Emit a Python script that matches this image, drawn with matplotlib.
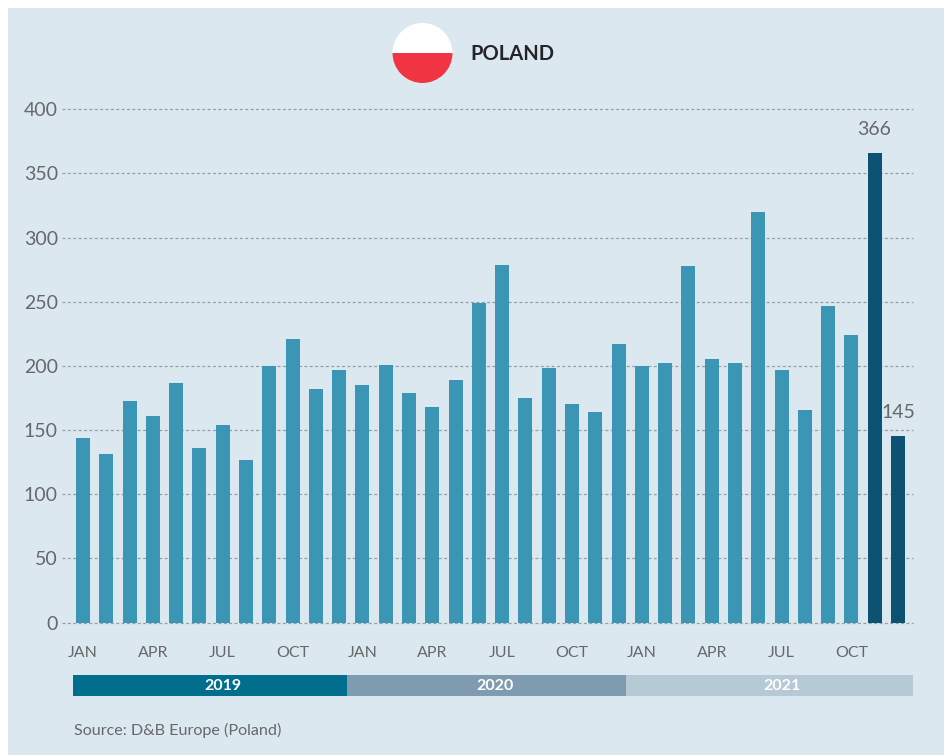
import numpy as np
import matplotlib
matplotlib.use("Agg")
import matplotlib.pyplot as plt
from matplotlib.patches import Circle, Rectangle

plt.rcParams["font.family"] = ["Lato", "DejaVu Sans"]

# Monthly values, Jan 2019 - Dec 2021
values_2019 = [144, 131, 173, 161, 187, 136, 154, 127, 200, 221, 182, 197]
values_2020 = [185, 201, 179, 168, 189, 249, 279, 175, 198, 170, 164, 217]
values_2021 = [200, 202, 278, 205, 202, 320, 197, 166, 247, 224, 366, 145]
month_labels = ["JAN", "APR", "JUL", "OCT"]
y_ticks = [0, 50, 100, 150, 200, 250, 300, 350, 400]
years = ["2019", "2020", "2021"]
highlighted = [34, 35]  # last two months are darker

W, H = 944, 755
BG = "#dce8f0"
TEXT = "#66686a"

values = values_2019 + values_2020 + values_2021
x = np.arange(len(values))

fig = plt.figure(figsize=(W / 100, H / 100), dpi=100, facecolor="white")

# overlay in pixel coordinates for the panel, flag and title
bg = fig.add_axes([0, 0, 1, 1], zorder=0)
bg.set_xlim(0, W)
bg.set_ylim(H, 0)
bg.axis("off")
bg.add_patch(Rectangle((8, 8), W - 8, H - 8, color=BG, lw=0))
bg.add_patch(Circle((422.5, 53), 30, fc="white", ec="none"))
flag_low = Rectangle((392, 53), 61, 31, fc="#f13441", ec="none")
bg.add_patch(flag_low)
flag_low.set_clip_path(Circle((422.5, 53), 30, transform=bg.transData))
bg.text(470.5, 54, "POLAND", fontsize=14.5, fontweight="bold", color="#222426",
        va="center", ha="left")
bg.text(74, 730, "Source: D&B Europe (Poland)", fontsize=11.6, color=TEXT,
        va="center", ha="left")

# main chart, axes edges placed on the pixel grid
left, right, top, bottom = 62, 913, 109.3, 622.5
ax = fig.add_axes([left / W, 1 - bottom / H, (right - left) / W, (bottom - top) / H],
                  zorder=1)
ax.patch.set_alpha(0)
spacing = (898 - 83) / 35
ax.set_xlim((left - 83) / spacing, (right - 83) / spacing)
ax.set_ylim(0, 400)

for t in y_ticks:
    ax.axhline(t, color="#969fa3", lw=0.9, ls=(0, (2.4, 1.9)), zorder=1, clip_on=False)

colors = ["#0c5273" if i in highlighted else "#3a96b4" for i in x]
ax.bar(x, values, width=14 / spacing, color=colors, zorder=2)

ax.text(33.96, 384, str(values[34]), fontsize=14, color=TEXT, ha="center", va="center")
ax.text(35, 164, str(values[35]), fontsize=14, color=TEXT, ha="center", va="center")

ax.set_yticks(y_ticks)
ax.set_xticks(x[::3])
ax.set_xticklabels(month_labels * 3)
ax.tick_params(axis="y", length=0, pad=3, labelsize=14, labelcolor=TEXT)
ax.tick_params(axis="x", length=0, pad=17, labelsize=11.5, labelcolor=TEXT)
for s in ax.spines.values():
    s.set_visible(False)

# year strip, shares the month scale of the chart
strip = fig.add_axes([left / W, 1 - 696 / H, (right - left) / W, 21 / H], zorder=1)
strip.set_xlim(ax.get_xlim())
strip.set_ylim(0, 1)
strip.axis("off")
edges = [-0.43, 11.33, 23.3, 35.63]
label_pos = [6, 17.7, 30]
strip_colors = ["#006e8d", "#7f9bb0", "#b5cad4"]
for k, year in enumerate(years):
    strip.add_patch(Rectangle((edges[k], 0), edges[k + 1] - edges[k], 1,
                              color=strip_colors[k], lw=0))
    strip.text(label_pos[k], 0.47, year, color="white", fontsize=11.5,
               fontweight="bold", ha="center", va="center")

fig.savefig("out.png", dpi=100, facecolor="white")
